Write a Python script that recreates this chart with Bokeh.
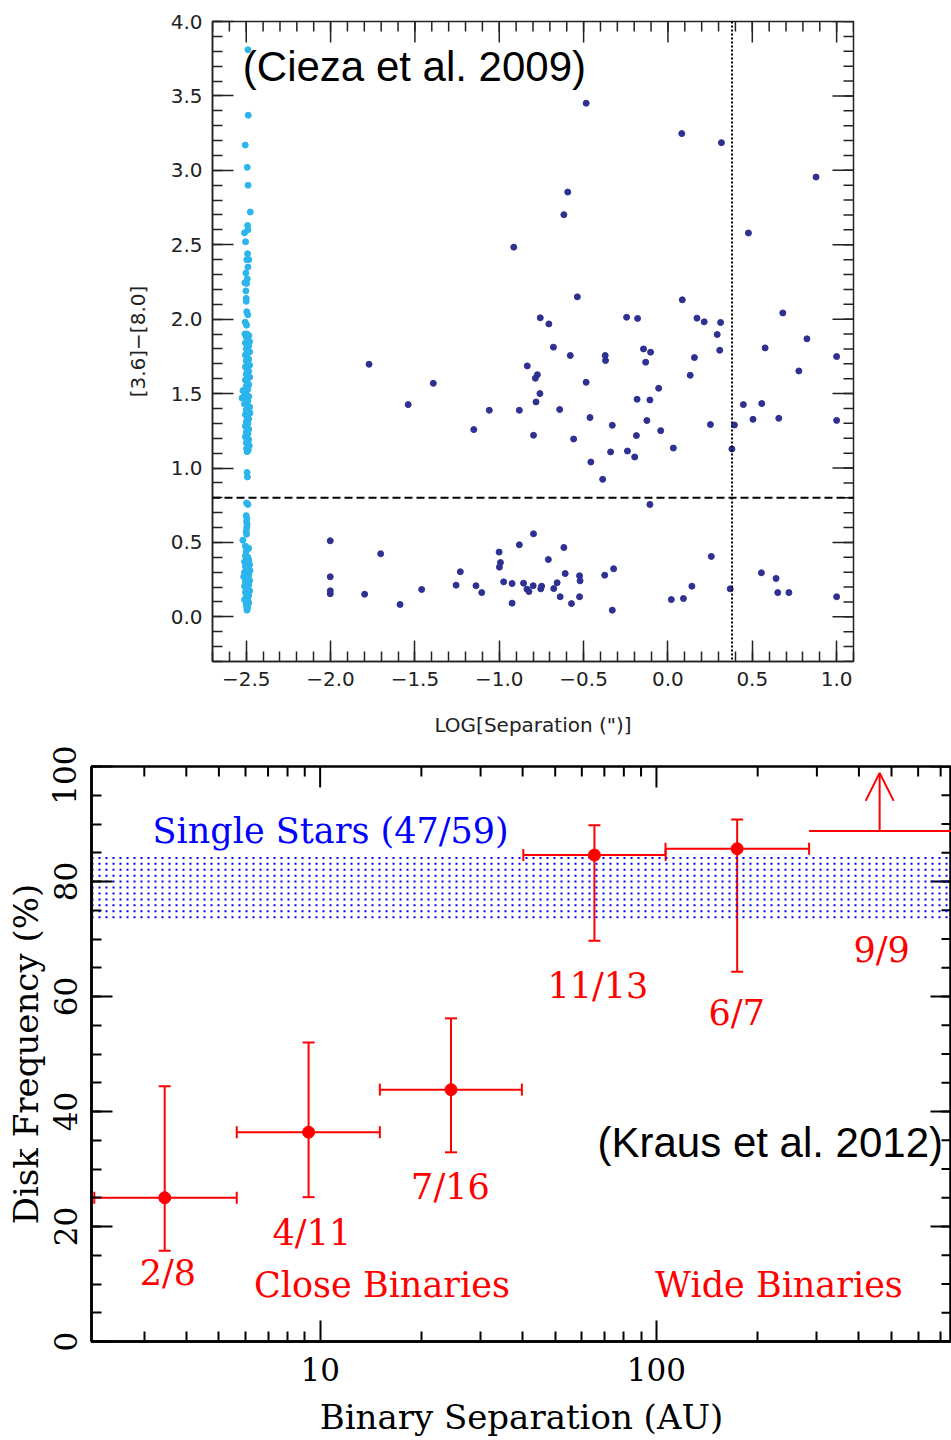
import numpy as np
from bokeh.plotting import figure
from bokeh.models import (FixedTicker, CustomJSTickFormatter, Span,
                          Whisker, TeeHead, Arrow, OpenHead, ColumnDataSource, Label)
from bokeh.embed import file_html
from bokeh.resources import INLINE
from bokeh.core.properties import value

# ---------------- Top panel data (Cieza et al. 2009) ----------------
# single (unresolved) stars, plotted at LOG sep = -2.5
single_x = [-2.490, -2.488, -2.506, -2.494, -2.489, -2.476, -2.492, -2.490, -2.510, -2.504,
            -2.492, -2.497, -2.485, -2.490, -2.502, -2.494, -2.508, -2.498, -2.502, -2.500,
            -2.500, -2.497, -2.491, -2.506, -2.498, -2.508, -2.495, -2.485,
            -2.500, -2.490, -2.480, -2.505, -2.495, -2.485, -2.500, -2.490, -2.480, -2.505,
            -2.495, -2.485, -2.500, -2.490, -2.480, -2.505, -2.495, -2.485, -2.500, -2.490,
            -2.480, -2.505, -2.495, -2.485, -2.500, -2.490, -2.520, -2.510, -2.495, -2.485,
            -2.525, -2.500, -2.490, -2.510, -2.495, -2.480, -2.500, -2.490, -2.478, -2.505,
            -2.495, -2.485, -2.500, -2.490, -2.505, -2.495, -2.485, -2.500, -2.490, -2.505,
            -2.495, -2.485, -2.500, -2.490, -2.482, -2.498, -2.488, -2.495,
            -2.495, -2.493, -2.498, -2.490, -2.500, -2.496, -2.498, -2.495, -2.497, -2.500,
            -2.498, -2.520, -2.505, -2.495, -2.485, -2.500,
            -2.505, -2.490, -2.500, -2.485, -2.510, -2.495, -2.480, -2.505, -2.490, -2.500,
            -2.478, -2.510, -2.495, -2.485, -2.515, -2.500, -2.490, -2.480, -2.505, -2.495,
            -2.485, -2.510, -2.500, -2.490, -2.480, -2.505, -2.495, -2.485, -2.500, -2.490,
            -2.510, -2.495, -2.485, -2.500, -2.492, -2.497, -2.493, -2.496]
single_y = [3.81, 3.37, 3.17, 3.02, 2.90, 2.72, 2.63, 2.60, 2.58, 2.52,
            2.44, 2.40, 2.40, 2.35, 2.31, 2.27, 2.245, 2.24, 2.19, 2.14,
            2.12, 2.05, 2.03, 1.98, 1.96, 1.90, 1.90, 1.89,
            1.88, 1.86, 1.85, 1.84, 1.83, 1.82, 1.80, 1.79, 1.78, 1.76,
            1.75, 1.73, 1.72, 1.70, 1.69, 1.68, 1.66, 1.65, 1.63, 1.62,
            1.61, 1.59, 1.58, 1.56, 1.55, 1.53, 1.52, 1.50, 1.49, 1.48,
            1.47, 1.46, 1.45, 1.43, 1.42, 1.41, 1.39, 1.38, 1.37, 1.36,
            1.34, 1.33, 1.31, 1.30, 1.28, 1.27, 1.26, 1.24, 1.23, 1.21,
            1.20, 1.19, 1.17, 1.16, 1.15, 1.13, 1.12, 1.11,
            0.97, 0.94, 0.765, 0.755, 0.68, 0.66, 0.64, 0.62, 0.60, 0.575,
            0.555, 0.515, 0.475, 0.465, 0.46, 0.44,
            0.41, 0.40, 0.39, 0.38, 0.37, 0.36, 0.35, 0.34, 0.33, 0.32,
            0.31, 0.30, 0.29, 0.28, 0.27, 0.26, 0.25, 0.245, 0.235, 0.225,
            0.215, 0.205, 0.195, 0.185, 0.175, 0.165, 0.155, 0.145, 0.135, 0.125,
            0.115, 0.105, 0.095, 0.085, 0.075, 0.065, 0.055, 0.045]

# resolved binaries: LOG separation (arcsec) and [3.6]-[8.0] colour
binary_x = [-0.485, 0.082, 0.317, 0.878, -0.594, -0.617, 0.477, -0.914, -0.537, 0.085,
            0.681, -0.757, -0.706, -0.245, -0.180, 0.172, 0.215, 0.312, 0.292, 0.824,
            -0.679, -0.145, -0.103, 0.576, 0.307, -0.579, -0.372, -0.370, -0.132, 1.000,
            -1.772, -0.834, 0.157, -0.774, -0.786, 0.776, 0.132, -1.391, -0.485, -0.055,
            -0.759, -1.540, -0.183, -0.107, -0.782, 0.447, 0.556, -1.059, -0.881, -0.642,
            -0.462, -0.125, 0.504, 0.657, 1.000, -0.330, 0.252, 0.394, -1.151, -0.043,
            -0.797, -0.187, -0.559, 0.032, 0.379, -0.340, -0.240, -0.197, -0.457, -0.387,
            -0.107,
            -0.797, -2.002, -0.881, -0.617, -1.001, -1.703, 0.257, -0.709, -0.993, -0.999,
            -0.322, -1.231, 0.554, -0.609, -0.375, -2.002, -0.524, -0.521, 0.641, -0.974,
            -0.924, -0.856, -0.657, -1.256, -1.138, -0.799, -0.749, 0.142, -1.460, -0.836,
            -0.754, -0.677, 0.369, -2.002, -0.824, -1.104, 0.651, 0.717, -2.002, -1.798,
            -0.639, -0.524, 1.000, 0.020, 0.092, -1.588, -0.924, -0.572, -0.330]
binary_y = [3.451, 3.247, 3.186, 2.955, 2.854, 2.702, 2.579, 2.484, 2.150, 2.130,
            2.042, 2.009, 1.968, 2.013, 2.005, 2.007, 1.982, 1.978, 1.897, 1.868,
            1.812, 1.800, 1.778, 1.807, 1.791, 1.756, 1.756, 1.722, 1.711, 1.749,
            1.697, 1.686, 1.742, 1.627, 1.603, 1.652, 1.623, 1.569, 1.576, 1.536,
            1.500, 1.426, 1.462, 1.457, 1.444, 1.426, 1.433, 1.388, 1.388, 1.393,
            1.339, 1.319, 1.327, 1.334, 1.320, 1.287, 1.292, 1.289, 1.258, 1.251,
            1.220, 1.218, 1.195, 1.134, 1.128, 1.108, 1.114, 1.074, 1.040, 0.924,
            0.755,
            0.558, 0.511, 0.484, 0.466, 0.435, 0.424, 0.406, 0.385, 0.365, 0.334,
            0.323, 0.303, 0.296, 0.291, 0.280, 0.269, 0.276, 0.242, 0.258, 0.235,
            0.224, 0.226, 0.229, 0.213, 0.209, 0.209, 0.206, 0.206, 0.184, 0.186,
            0.188, 0.190, 0.188, 0.175, 0.170, 0.163, 0.163, 0.163, 0.155, 0.152,
            0.135, 0.135, 0.135, 0.116, 0.123, 0.083, 0.092, 0.089, 0.045]
color_cut = 0.8        # [3.6]-[8.0] disk threshold
sep_limit = 0.38       # LOG separation limit

top_xticks = [-2.5, -2.0, -1.5, -1.0, -0.5, 0.0, 0.5, 1.0]
top_yticks = [0.0, 0.5, 1.0, 1.5, 2.0, 2.5, 3.0, 3.5, 4.0]

# ---------------- Bottom panel data (Kraus et al. 2012) ----------------
bin_labels = ["2/8", "4/11", "7/16", "11/13", "6/7"]
bin_sep = [3.45, 9.24, 24.5, 65.4, 173.8]          # AU
bin_sep_lo = [2.13, 5.65, 15.05, 40.2, 106.4]
bin_sep_hi = [5.65, 15.05, 39.8, 106.5, 284.4]
bin_freq = [25.0, 36.4, 43.8, 84.6, 85.7]           # %
bin_freq_lo = [15.8, 25.1, 32.9, 69.7, 64.3]
bin_freq_hi = [44.4, 52.0, 56.2, 89.8, 90.8]

wide_label = "9/9"
wide_sep = 461.0
wide_sep_lo = 284.4
wide_sep_hi = 1000.0
wide_freq_limit = 88.8
wide_arrow_top = 98.9

single_lo, single_hi = 73.8, 84.1                  # single stars band (47/59)

bot_xticks = [10, 100]
bot_xminor = [3, 4, 5, 6, 7, 8, 9, 20, 30, 40, 50, 60, 70, 80, 90, 200, 300, 400, 500, 600, 700]
bot_yticks = [0, 20, 40, 60, 80, 100]

# label anchors (data coordinates)
lab_x = [3.526, 9.45, 24.4, 67.0, 173.3, 467.4]
lab_y = [12.0, 18.8, 26.9, 61.9, 57.1, 68.1]

MAJ_LEN, MIN_LEN = 21, 10   # tick lengths in px

# ======================== TOP FIGURE ========================
AX_COL = "#222222"
T_W, T_H = 951, 745
T_L, T_R, T_T, T_B = 212, 98, 21, 84
T_XR, T_YR = (-2.7, 1.1), (-0.3, 4.0)
p1 = figure(width=T_W, height=T_H, x_range=T_XR, y_range=T_YR,
            output_backend="svg", toolbar_location=None,
            min_border_left=T_L, min_border_right=T_R, min_border_top=T_T, min_border_bottom=T_B)
p1.xgrid.visible = False
p1.ygrid.visible = False
p1.outline_line_color = AX_COL
p1.outline_line_width = 1.5
p1.background_fill_color = "white"
p1.border_fill_color = "white"

fmt1 = CustomJSTickFormatter(code="return tick.toFixed(1).replace('-', '\u2212');")
x_minor1 = [round(v, 2) for v in np.arange(-2.7, 1.101, 0.1)]
y_minor1 = [round(v, 2) for v in np.arange(-0.3, 4.001, 0.1)]


def style_axis(ax, ticks, minor, col, lw, font, fsize, lsize):
    ax.ticker = FixedTicker(ticks=ticks, minor_ticks=minor)
    ax.major_tick_in = MAJ_LEN
    ax.major_tick_out = 0
    ax.minor_tick_in = MIN_LEN
    ax.minor_tick_out = 0
    ax.axis_line_color = col
    ax.axis_line_width = lw
    ax.major_tick_line_color = col
    ax.minor_tick_line_color = col
    ax.major_tick_line_width = lw
    ax.minor_tick_line_width = lw
    ax.major_label_text_font = font
    ax.major_label_text_font_size = fsize
    ax.major_label_text_color = col
    ax.axis_label_text_font = font
    ax.axis_label_text_font_size = lsize
    ax.axis_label_text_font_style = "normal"
    ax.axis_label_text_color = col


style_axis(p1.xaxis[0], top_xticks, x_minor1, AX_COL, 1.5, "DejaVu Sans", "20px", "20px")
style_axis(p1.yaxis[0], top_yticks, y_minor1, AX_COL, 1.5, "DejaVu Sans", "20px", "20px")
p1.xaxis[0].formatter = fmt1
p1.yaxis[0].formatter = fmt1
p1.xaxis[0].major_label_standoff = 10
p1.yaxis[0].major_label_standoff = 10
p1.xaxis[0].axis_label = 'LOG[Separation (")]'
p1.xaxis[0].axis_label_standoff = 24
p1.yaxis[0].axis_label = "[3.6]\u2212[8.0]"
p1.yaxis[0].axis_label_standoff = 18

# mirrored ticks on the top and right frame edges
t_px_x = (T_W - T_L - T_R) / (T_XR[1] - T_XR[0])
t_px_y = (T_H - T_T - T_B) / (T_YR[1] - T_YR[0])
for tks, ln in ((top_xticks, MAJ_LEN), (x_minor1, MIN_LEN)):
    p1.segment(x0=tks, y0=[T_YR[1]] * len(tks), x1=tks, y1=[T_YR[1] - ln / t_px_y] * len(tks),
               line_color=AX_COL, line_width=1.5)
for tks, ln in ((top_yticks, MAJ_LEN), (y_minor1, MIN_LEN)):
    p1.segment(x0=[T_XR[1]] * len(tks), y0=tks, x1=[T_XR[1] - ln / t_px_x] * len(tks), y1=tks,
               line_color=AX_COL, line_width=1.5)

p1.add_layout(Span(location=color_cut, dimension="width", line_color="black",
                   line_width=2, line_dash="8 4"))
p1.add_layout(Span(location=sep_limit, dimension="height", line_color="black",
                   line_width=2, line_dash="2 2"))

p1.scatter(single_x, single_y, size=6, color="#2BB5EC")
p1.scatter(binary_x, binary_y, size=6, color="#2E3192")

p1.add_layout(Label(x=-2.52, y=3.70, text="(Cieza et al. 2009)", text_font="Liberation Sans",
                    text_font_size="42px", text_color="black", text_baseline="alphabetic"))

# ======================== BOTTOM FIGURE ========================
B_W, B_H = 951, 695
B_L, B_R, B_T, B_B = 91, 0, 21, 99
B_XR, B_YR = (2.09, 754.0), (0, 100)
p2 = figure(width=B_W, height=B_H, x_axis_type="log", x_range=B_XR, y_range=B_YR,
            output_backend="svg", toolbar_location=None,
            min_border_left=B_L, min_border_right=B_R, min_border_top=B_T, min_border_bottom=B_B)
p2.xgrid.visible = False
p2.ygrid.visible = False
p2.outline_line_color = "black"
p2.outline_line_width = 2.5
p2.background_fill_color = "white"
p2.border_fill_color = "white"

fmt_int = CustomJSTickFormatter(code="return tick.toFixed(0);")
y_minor2 = list(range(0, 101, 5))

style_axis(p2.xaxis[0], bot_xticks, bot_xminor, "black", 2, "DejaVu Serif", "31px", "34px")
style_axis(p2.yaxis[0], bot_yticks, y_minor2, "black", 2, "DejaVu Serif", "31px", "34px")
p2.xaxis[0].axis_line_width = 2.5
p2.yaxis[0].axis_line_width = 2.5
p2.xaxis[0].formatter = fmt_int
p2.xaxis[0].major_label_standoff = 16
p2.xaxis[0].axis_label = "Binary Separation (AU)"
p2.xaxis[0].axis_label_standoff = 13
p2.yaxis[0].formatter = fmt_int
p2.yaxis[0].major_label_orientation = "vertical"
p2.yaxis[0].major_label_standoff = 15
p2.yaxis[0].axis_label = "Disk Frequency (%)"
p2.yaxis[0].axis_label_standoff = 5

# mirrored ticks on top and right frame edges
b_px_dec = (B_W - B_L - B_R) / (np.log10(B_XR[1]) - np.log10(B_XR[0]))
b_px_y = (B_H - B_T - B_B) / (B_YR[1] - B_YR[0])
for tks, ln in ((bot_xticks, MAJ_LEN), (bot_xminor, MIN_LEN)):
    p2.segment(x0=tks, y0=[B_YR[1]] * len(tks), x1=tks, y1=[B_YR[1] - ln / b_px_y] * len(tks),
               line_color="black", line_width=2)
for tks, ln in ((bot_yticks, MAJ_LEN), (y_minor2, MIN_LEN)):
    p2.segment(x0=[B_XR[1]] * len(tks), y0=tks, x1=[B_XR[1] / 10 ** (ln / b_px_dec)] * len(tks),
               y1=tks, line_color="black", line_width=2)

# single-star band drawn as rows of dots
rows = list(np.linspace(single_lo, single_hi, 11))
p2.multi_line(xs=[[B_XR[0], B_XR[1]] for _ in rows], ys=[[r, r] for r in rows],
              line_color="blue", line_width=2, line_dash="2 5", line_cap="butt")

src = ColumnDataSource(dict(x=bin_sep, y=bin_freq, xlo=bin_sep_lo, xhi=bin_sep_hi,
                            ylo=bin_freq_lo, yhi=bin_freq_hi))
RED = "#FF0000"
p2.add_layout(Whisker(source=src, base="y", lower="xlo", upper="xhi", dimension="width",
                      line_color=RED, line_width=2,
                      upper_head=TeeHead(size=12, line_color=RED, line_width=2),
                      lower_head=TeeHead(size=12, line_color=RED, line_width=2)))
p2.add_layout(Whisker(source=src, base="x", lower="ylo", upper="yhi", dimension="height",
                      line_color=RED, line_width=2,
                      upper_head=TeeHead(size=12, line_color=RED, line_width=2),
                      lower_head=TeeHead(size=12, line_color=RED, line_width=2)))
p2.scatter("x", "y", source=src, size=12, color=RED)

# 9/9 lower limit
p2.segment(x0=[wide_sep_lo], y0=[wide_freq_limit], x1=[wide_sep_hi], y1=[wide_freq_limit],
           line_color=RED, line_width=2)
p2.add_layout(Arrow(x_start=wide_sep, y_start=wide_freq_limit, x_end=wide_sep, y_end=wide_arrow_top,
                    line_color=RED, line_width=2,
                    end=OpenHead(size=28, line_color=RED, line_width=2)))

p2.text(x=lab_x, y=lab_y, text=bin_labels + [wide_label], text_font=value("DejaVu Serif"),
        text_font_size="35px", text_color=RED, text_align="center", text_baseline="alphabetic")
p2.text(x=[15.27, 231.4], y=[9.9, 9.9], text=["Close Binaries", "Wide Binaries"],
        text_font=value("DejaVu Serif"), text_font_size="35px", text_color=RED,
        text_align="center", text_baseline="alphabetic")
p2.text(x=[3.176], y=[88.7], text=["Single Stars (47/59)"], text_font=value("DejaVu Serif"),
        text_font_size="35px", text_color="blue", text_align="left", text_baseline="alphabetic")
p2.add_layout(Label(x=66.8, y=34.6, text="(Kraus et al. 2012)", text_font="Liberation Sans",
                    text_font_size="42px", text_color="black", text_baseline="alphabetic"))

open("out.html", "w").write(file_html([p1, p2], INLINE))
